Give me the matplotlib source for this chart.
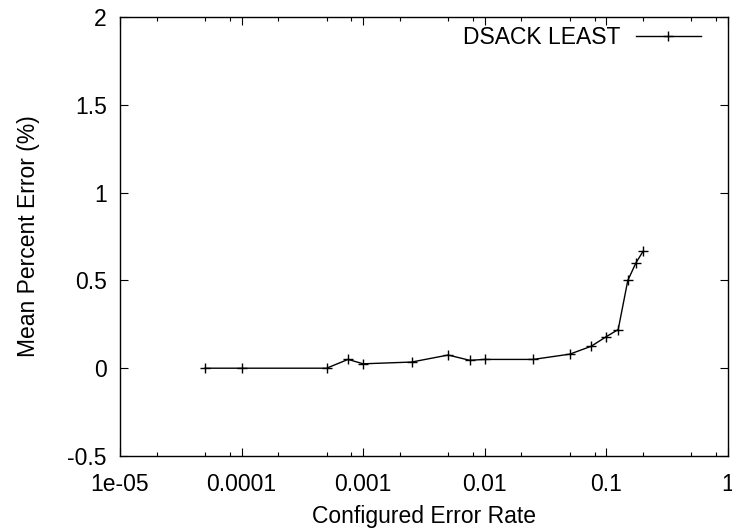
import matplotlib
matplotlib.use("Agg")
import matplotlib.pyplot as plt
from matplotlib.ticker import FixedLocator, NullFormatter

plt.rcParams['font.family'] = ['Liberation Sans', 'DejaVu Sans']

error_rate = [5e-5, 1e-4, 5e-4, 7.5e-4, 1e-3, 2.5e-3, 5e-3, 7.5e-3, 1e-2,
              2.5e-2, 5e-2, 7.5e-2, 0.1, 0.125, 0.15, 0.175, 0.2]
mean_pct_error = [0.0, 0.0, 0.0, 0.05, 0.025, 0.035, 0.075, 0.045, 0.05,
                  0.05, 0.08, 0.125, 0.18, 0.22, 0.50, 0.60, 0.665]
series_label = "DSACK LEAST"
x_ticks = [1e-5, 1e-4, 1e-3, 1e-2, 1e-1, 1]
x_tick_labels = ["1e-05", "0.0001", "0.001", "0.01", "0.1", "1"]
y_ticks = [-0.5, 0, 0.5, 1, 1.5, 2]
y_tick_labels = ["-0.5", "0", "0.5", "1", "1.5", "2"]

FS = 16.5
fig = plt.figure(figsize=(7.32, 5.29), dpi=100)
ax = fig.add_axes([120/732, 1-456/529, (728-120)/732, (456-17)/529])

ax.plot(error_rate, mean_pct_error, color='black', lw=1.0, marker='+',
        markersize=7, markeredgewidth=1.0, label=series_label)

ax.set_xscale('log')
ax.set_xlim(1e-5, 1)
ax.set_ylim(-0.5, 2)
ax.set_xticks(x_ticks)
ax.set_xticklabels(x_tick_labels)
minor = []
for d in [1e-5, 1e-4, 1e-3, 1e-2, 1e-1]:
    for m in (2, 5, 8):
        minor.append(d * m)
ax.xaxis.set_minor_locator(FixedLocator(minor))
ax.xaxis.set_minor_formatter(NullFormatter())
ax.set_yticks(y_ticks)
ax.set_yticklabels(y_tick_labels)

ax.tick_params(which='major', direction='in', length=6, width=0.8,
               top=True, right=True, labelsize=FS)
ax.tick_params(axis='x', which='major', pad=12)
ax.tick_params(axis='y', which='major', pad=9.5)
ax.tick_params(which='minor', direction='in', length=3, width=0.8,
               top=True, right=True)
for s in ax.spines.values():
    s.set_linewidth(1.0)

ax.set_xlabel("Configured Error Rate", fontsize=FS, labelpad=7)
ax.set_ylabel("Mean Percent Error (%)", fontsize=FS, labelpad=20)

ax.legend(loc='upper right', frameon=False, markerfirst=False, fontsize=FS,
          handlelength=2.85, handletextpad=0.68, borderaxespad=0.0,
          bbox_to_anchor=(1 - 18/608, 1.0))

fig.savefig("out.png", dpi=100)
